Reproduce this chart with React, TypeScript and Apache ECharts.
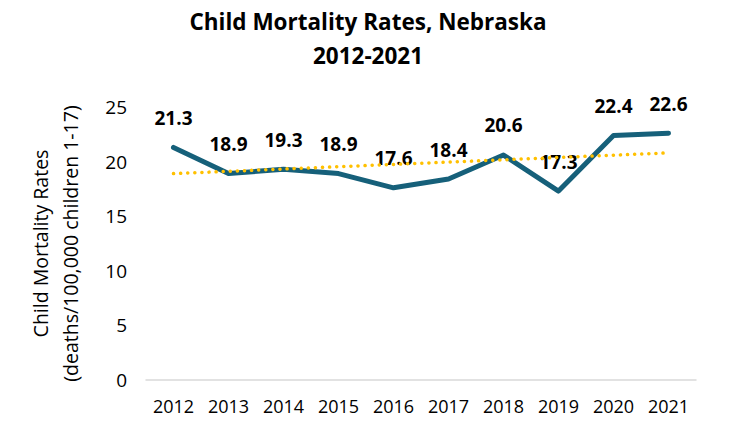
import React, { useEffect, useRef } from "react";
import * as echarts from "echarts";

const years = ["2012", "2013", "2014", "2015", "2016", "2017", "2018", "2019", "2020", "2021"];
const rates = [21.3, 18.9, 19.3, 18.9, 17.6, 18.4, 20.6, 17.3, 22.4, 22.6];
// linear trendline endpoints (first and last year)
const trendPoints: [number, number][] = [
  [0, 18.9],
  [9, 20.8],
];
const yTicks = { min: 0, max: 25, interval: 5 };

const FONT = "Open Sans";

export default function App() {
  const ref = useRef<HTMLDivElement>(null);
  useEffect(() => {
    if (!ref.current) return;
    const chart = echarts.init(ref.current, null, { renderer: "svg" });
    chart.setOption({
      animation: false,
      backgroundColor: "#ffffff",
      textStyle: { fontFamily: FONT },
      title: {
        text: "Child Mortality Rates, Nebraska\n2012-2021",
        left: 363,
        top: -1,
        textAlign: "center",
        textStyle: {
          fontFamily: FONT,
          fontSize: 22.5,
          fontWeight: "bold",
          color: "#000000",
          lineHeight: 34,
        },
      },
      grid: { left: 146, right: 43, top: 107, bottom: 43, containLabel: false },
      xAxis: {
        type: "category",
        data: years,
        boundaryGap: true,
        axisLine: { show: true, lineStyle: { color: "#d9d9d9", width: 1.5 } },
        axisTick: { show: false },
        axisLabel: { fontFamily: FONT, fontSize: 18, color: "#000000", margin: 17 },
        splitLine: { show: false },
      },
      yAxis: {
        type: "value",
        min: yTicks.min,
        max: yTicks.max,
        interval: yTicks.interval,
        axisLine: { show: false },
        axisTick: { show: false },
        splitLine: { show: false },
        axisLabel: { fontFamily: FONT, fontSize: 19, color: "#000000", margin: 19 },
        name: "Child Mortality Rates\n(deaths/100,000 children 1-17)",
        nameLocation: "middle",
        nameGap: 61,
        nameRotate: 90,
        nameTextStyle: { fontFamily: FONT, fontSize: 19.5, color: "#000000", lineHeight: 30 },
      },
      series: [
        {
          type: "line",
          data: rates,
          symbol: "circle",
          symbolSize: 0.1,
          showSymbol: true,
          lineStyle: { color: "#16607a", width: 5, cap: "round", join: "round" },
          itemStyle: { color: "#16607a" },
          label: {
            show: true,
            position: "top",
            distance: 20,
            fontFamily: FONT,
            fontSize: 19,
            fontWeight: "bold",
            color: "#000000",
          },
          z: 2,
        },
        {
          type: "line",
          data: trendPoints,
          symbol: "none",
          lineStyle: { color: "#FFC000", width: 3.5, type: [0.1, 7], cap: "round" },
          label: { show: false },
          silent: true,
          z: 3,
        },
      ],
    });
    return () => chart.dispose();
  }, []);
  return (
    <div
      ref={ref}
      style={{ position: "fixed", left: 0, top: 0, width: 739, height: 423 }}
    />
  );
}
